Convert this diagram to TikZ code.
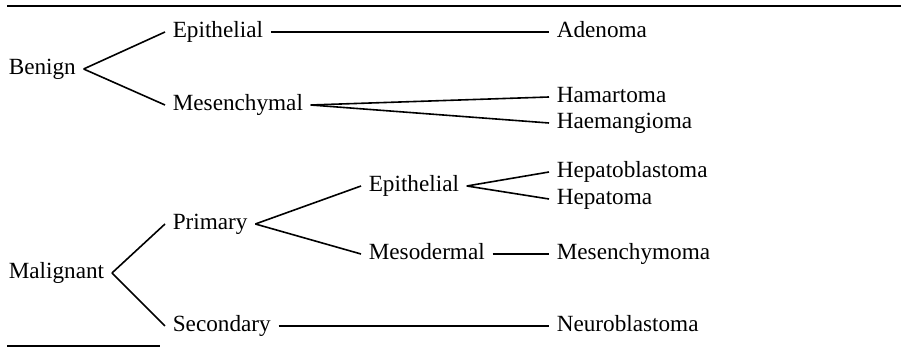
\documentclass[tikz,border=0pt]{standalone}
\usepackage{fontspec}
\setmainfont{Liberation Serif}
\begin{document}
\begin{tikzpicture}[x=0.5pt,y=-0.5pt,line width=0.8pt,
  every node/.style={font=\fontsize{11.6}{14}\selectfont},
  lbl/.style={anchor=base west,inner xsep=3.5pt,inner ysep=0pt,text height=0.8em,text depth=0.2em}]
\useasboundingbox (0,0) rectangle (901,347);
% rules above and below
\draw[line width=1pt] (7,6) -- (901,6);
\draw[line width=1pt] (7,346) -- (160,346);
% benign branch
\foreach \n/\x/\y/\t in {benign/1/75/Benign,epiA/165/38/Epithelial,mes/165/111/Mesenchymal,
  adenoma/549/38/Adenoma,hamart/549/103/Hamartoma,haemang/549/129/Haemangioma}
  \node[lbl] (\n) at (\x,\y) {\t};
% malignant branch
\foreach \n/\x/\y/\t in {malig/1/279/Malignant,primary/165/230/Primary,second/165/332/Secondary,
  epiB/361/192/Epithelial,mesod/361/260/Mesodermal,hepatob/549/178/Hepatoblastoma,
  hepatom/549/205/Hepatoma,mesench/549/260/Mesenchymoma,neuro/549/332/Neuroblastoma}
  \node[lbl] (\n) at (\x,\y) {\t};
% connectors
\foreach \a/\b in {benign/epiA,benign/mes,epiA/adenoma,mes/hamart,mes/haemang,
  malig/primary,malig/second,primary/epiB,primary/mesod,epiB/hepatob,epiB/hepatom,
  mesod/mesench,second/neuro}
  \draw (\a.east) -- (\b.west);
\end{tikzpicture}
\end{document}
